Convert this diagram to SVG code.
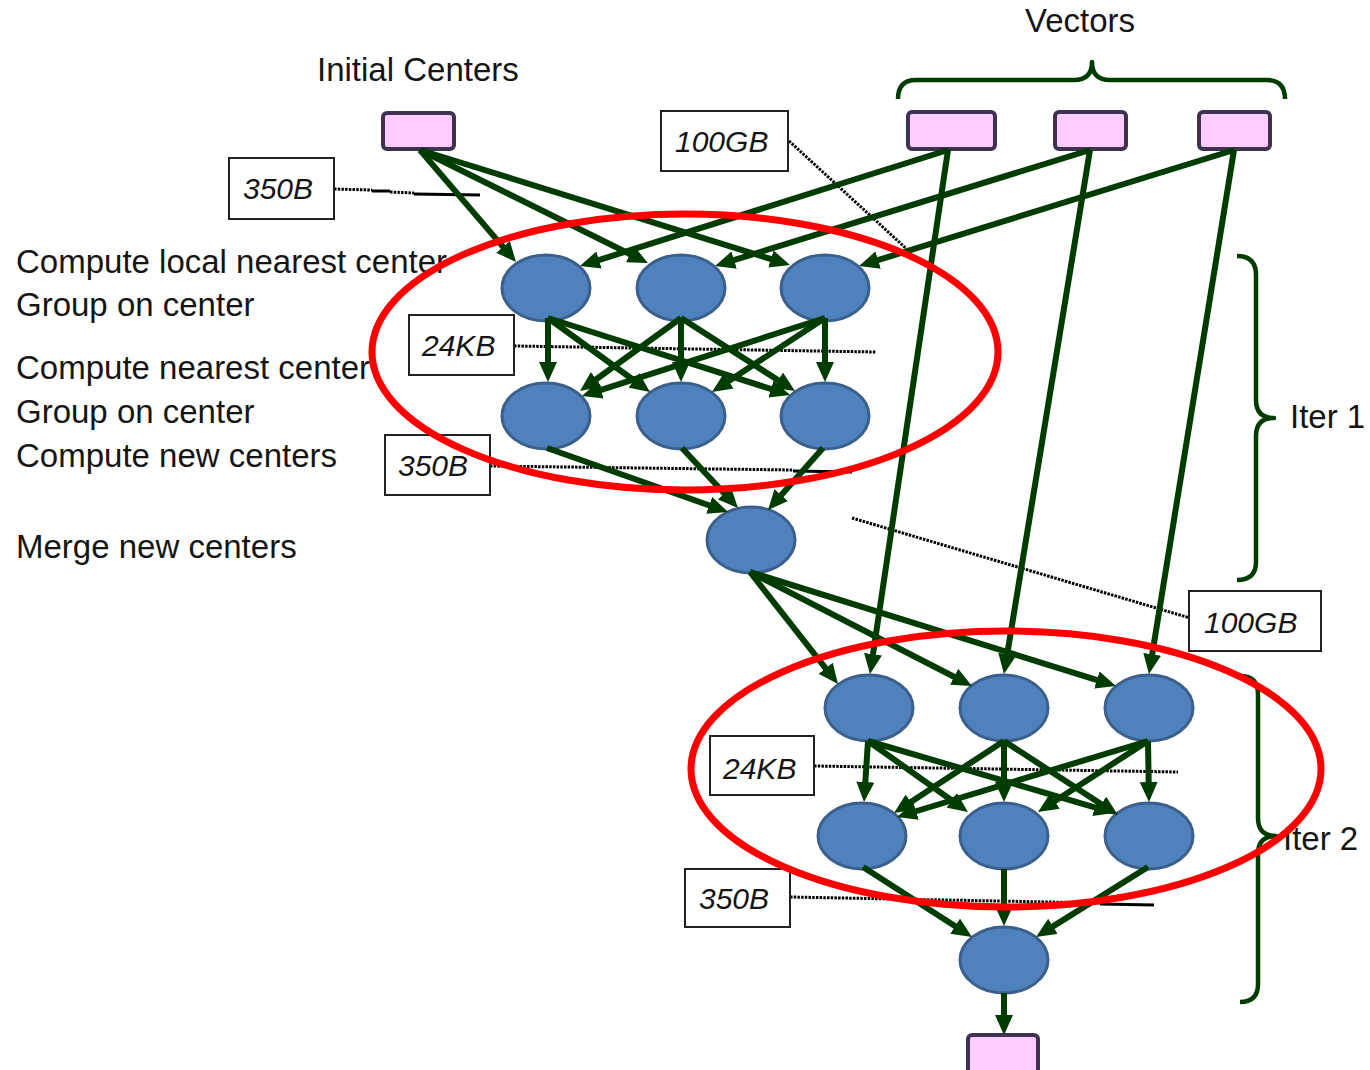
<svg xmlns="http://www.w3.org/2000/svg" width="1370" height="1070" viewBox="0 0 1370 1070">
  <defs>
    <style>
      .lbl { font-family: "Liberation Sans", Arial, sans-serif; font-size: 33px; fill: #151515; }
      .size { font-family: "Liberation Sans", Arial, sans-serif; font-size: 30px; font-style: italic; fill: #151515; }
      .sbox { fill: #ffffff; stroke: #222222; stroke-width: 2; }
      .store { fill: #ffccff; stroke: #3f3151; stroke-width: 4; }
      .task { fill: #4f81bd; stroke: #3a5f8c; stroke-width: 3; }
      .edge { stroke: #003c00; stroke-width: 6; fill: none; marker-end: url(#head); }
      .brace { stroke: #003c00; stroke-width: 4.5; fill: none; stroke-linejoin: round; }
      .lead { stroke: #000000; stroke-width: 3; fill: none; stroke-dasharray: 2.5 1.2; }
      .solid { stroke: #000000; stroke-width: 3; fill: none; }
      .ring { stroke: #ff0000; stroke-width: 7; fill: none; }
    </style>
    <marker id="head" markerUnits="userSpaceOnUse" viewBox="0 0 20 18" markerWidth="20" markerHeight="18" refX="8" refY="9" orient="auto">
      <path d="M0,0 L20,9 L0,18 z" fill="#003c00"/>
    </marker>
  </defs>

  <rect width="1370" height="1070" fill="#ffffff"/>

  <!-- stage captions -->
  <g id="captions">
    <text class="lbl" x="317" y="81">Initial Centers</text>
    <text class="lbl" x="1025" y="32">Vectors</text>
    <text class="lbl" x="16" y="273">Compute local nearest center</text>
    <text class="lbl" x="16" y="316">Group on center</text>
    <text class="lbl" x="16" y="379">Compute nearest center</text>
    <text class="lbl" x="16" y="423">Group on center</text>
    <text class="lbl" x="16" y="467">Compute new centers</text>
    <text class="lbl" x="16" y="558">Merge new centers</text>
    <text class="lbl" x="1290" y="428">Iter 1</text>
    <text class="lbl" x="1283" y="850">Iter 2</text>
  </g>

  <!-- braces -->
  <g id="braces">
    <path class="brace" d="M898,99 Q898,80 916,80 L1074,80 Q1092,80 1092,62 Q1092,80 1110,80 L1267,80 Q1285,80 1285,99"/>
    <path class="brace" d="M1237,256 Q1256,256 1256,275 L1256,400 Q1256,418 1274,418 Q1256,418 1256,436 L1256,562 Q1256,580 1237,580"/>
    <path class="brace" d="M1240,676 Q1258,676 1258,694 L1258,818 Q1258,836 1276,836 Q1258,836 1258,854 L1258,984 Q1258,1002 1240,1002"/>
  </g>

  <!-- data volume leaders -->
  <g id="leaders">
    <path class="lead" d="M334,189 L372,190"/>
    <path class="solid" d="M372,191 L390,191"/>
    <path class="lead" d="M390,192 L414,193"/>
    <path class="solid" d="M414,194 L480,195"/>
    <path class="lead" d="M789,141 L910,252"/>
    <path class="lead" d="M514,346 L876,352"/>
    <path class="lead" d="M490,466 L793,470"/>
    <path class="solid" d="M793,471 L852,472"/>
    <path class="lead" d="M852,518 L1190,618"/>
    <path class="lead" d="M814,766 L1178,772"/>
    <path class="lead" d="M790,897 L1100,903"/>
    <path class="solid" d="M1100,904 L1154,905"/>
  </g>

  <!-- data stores -->
  <g id="store-centers"><rect class="store" x="383" y="113" width="71" height="36" rx="4"/></g>
  <g id="store-vec1"><rect class="store" x="908" y="112" width="87" height="37" rx="4"/></g>
  <g id="store-vec2"><rect class="store" x="1055" y="112" width="71" height="37" rx="4"/></g>
  <g id="store-vec3"><rect class="store" x="1199" y="112" width="71" height="37" rx="4"/></g>
  <g id="store-out"><rect class="store" x="968" y="1035" width="70" height="40" rx="4"/></g>

  <!-- iteration 1 tasks -->
  <g id="i1-local1"><ellipse class="task" cx="546" cy="288" rx="44" ry="33"/></g>
  <g id="i1-local2"><ellipse class="task" cx="681" cy="288" rx="44" ry="33"/></g>
  <g id="i1-local3"><ellipse class="task" cx="825" cy="288" rx="44" ry="33"/></g>
  <g id="i1-near1"><ellipse class="task" cx="546" cy="416" rx="44" ry="33"/></g>
  <g id="i1-near2"><ellipse class="task" cx="681" cy="416" rx="44" ry="33"/></g>
  <g id="i1-near3"><ellipse class="task" cx="825" cy="416" rx="44" ry="33"/></g>
  <g id="i1-merge"><ellipse class="task" cx="751" cy="540" rx="44" ry="33"/></g>

  <!-- iteration 2 tasks -->
  <g id="i2-local1"><ellipse class="task" cx="869" cy="708" rx="44" ry="33"/></g>
  <g id="i2-local2"><ellipse class="task" cx="1004" cy="708" rx="44" ry="33"/></g>
  <g id="i2-local3"><ellipse class="task" cx="1149" cy="708" rx="44" ry="33"/></g>
  <g id="i2-near1"><ellipse class="task" cx="862" cy="836" rx="44" ry="33"/></g>
  <g id="i2-near2"><ellipse class="task" cx="1004" cy="836" rx="44" ry="33"/></g>
  <g id="i2-near3"><ellipse class="task" cx="1149" cy="836" rx="44" ry="33"/></g>
  <g id="i2-merge"><ellipse class="task" cx="1004" cy="960" rx="44" ry="33"/></g>

  <!-- data flow -->
  <g id="connectors">
    <!-- initial centers to local tasks -->
    <path class="edge" d="M420,150 L508.2,252.9"/>
    <path class="edge" d="M420,150 L637.2,257.7"/>
    <path class="edge" d="M420,150 L778.5,261.4"/>
    <!-- vectors to local tasks -->
    <path class="edge" d="M948,150 L591.4,262.4"/>
    <path class="edge" d="M1090,150 L726.5,262.4"/>
    <path class="edge" d="M1234,150 L870.5,262.4"/>
    <!-- vectors re-read in iteration 2 -->
    <path class="edge" d="M948,150 L871.8,662.1"/>
    <path class="edge" d="M1090,150 L1005.9,662.2"/>
    <path class="edge" d="M1234,150 L1150.9,662.2"/>
    <!-- iteration 1 shuffle -->
    <path class="edge" d="M548,318 L548,370"/>
    <path class="edge" d="M548,318 L640.3,385"/>
    <path class="edge" d="M548,318 L778.6,391.4"/>
    <path class="edge" d="M681,318 L589.7,384"/>
    <path class="edge" d="M681,318 L681,370"/>
    <path class="edge" d="M681,318 L784.9,384.5"/>
    <path class="edge" d="M825,318 L593.4,392.3"/>
    <path class="edge" d="M825,318 L722,385.4"/>
    <path class="edge" d="M825,318 L825,370"/>
    <!-- iteration 1 merge -->
    <path class="edge" d="M547,448 L716.7,508"/>
    <path class="edge" d="M682,448 L729.8,499.2"/>
    <path class="edge" d="M823,448 L776,501"/>
    <!-- new centers to iteration 2 -->
    <path class="edge" d="M750,572 L830.6,674.6"/>
    <path class="edge" d="M750,572 L961.3,680.5"/>
    <path class="edge" d="M750,572 L1104.5,682.4"/>
    <!-- iteration 2 shuffle -->
    <path class="edge" d="M868,741 L864.8,790"/>
    <path class="edge" d="M868,741 L958.2,805"/>
    <path class="edge" d="M868,741 L1102.5,809.6"/>
    <path class="edge" d="M1004,741 L904,806.4"/>
    <path class="edge" d="M1004,741 L1004,790"/>
    <path class="edge" d="M1004,741 L1107.9,808.5"/>
    <path class="edge" d="M1148,741 L908.5,813.5"/>
    <path class="edge" d="M1148,741 L1048.1,805.5"/>
    <path class="edge" d="M1148,741 L1148.8,790"/>
    <!-- iteration 2 merge and output -->
    <path class="edge" d="M863,867 L961.9,930.5"/>
    <path class="edge" d="M1004,869 L1004,914"/>
    <path class="edge" d="M1148,867 L1046.2,930.6"/>
    <path class="edge" d="M1004,993 L1004,1023"/>
  </g>

  <!-- data volume tags -->
  <g id="tag-350b-a"><rect class="sbox" x="229" y="158" width="105" height="61"/><text class="size" x="243" y="199">350B</text></g>
  <g id="tag-100gb-a"><rect class="sbox" x="661" y="111" width="127" height="60"/><text class="size" x="675" y="152">100GB</text></g>
  <g id="tag-24kb-a"><rect class="sbox" x="409" y="315" width="105" height="60"/><text class="size" x="422" y="356">24KB</text></g>
  <g id="tag-350b-b"><rect class="sbox" x="385" y="435" width="105" height="60"/><text class="size" x="398" y="476">350B</text></g>
  <g id="tag-100gb-b"><rect class="sbox" x="1189" y="591" width="132" height="60"/><text class="size" x="1204" y="633">100GB</text></g>
  <g id="tag-24kb-b"><rect class="sbox" x="710" y="736" width="104" height="59"/><text class="size" x="723" y="779">24KB</text></g>
  <g id="tag-350b-c"><rect class="sbox" x="685" y="869" width="105" height="58"/><text class="size" x="699" y="909">350B</text></g>

  <!-- iteration highlights -->
  <g id="highlights">
    <ellipse class="ring" cx="685" cy="352" rx="313" ry="138"/>
    <ellipse class="ring" cx="1006" cy="769" rx="315" ry="138"/>
  </g>
</svg>
